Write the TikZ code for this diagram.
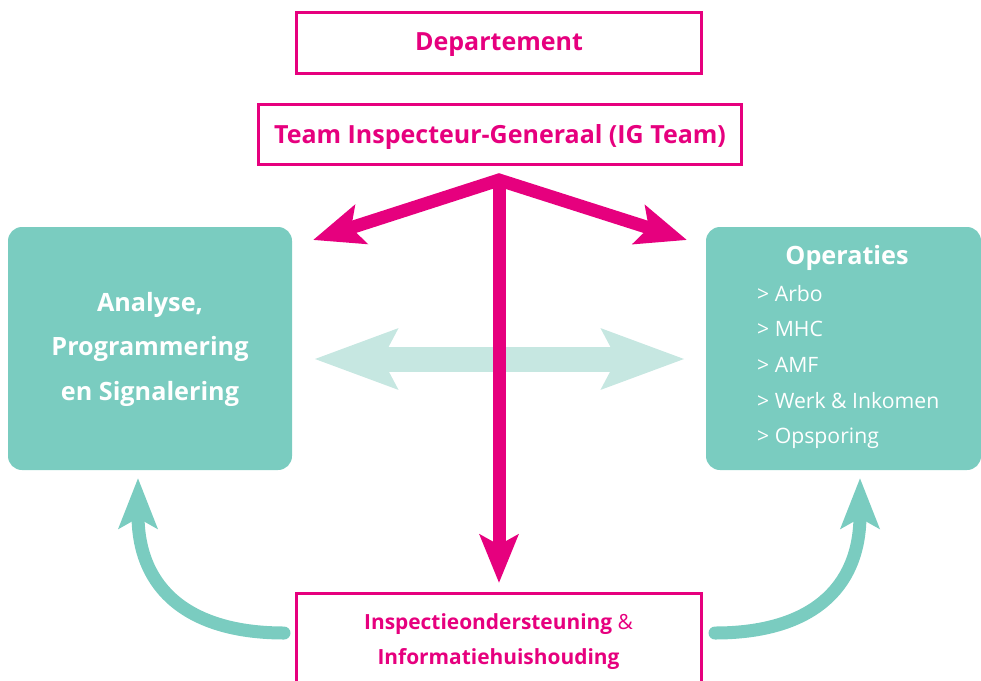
\documentclass[tikz,border=0pt]{standalone}
\usepackage{fontspec}
\setmainfont{Open Sans}
\usetikzlibrary{arrows.meta}
\definecolor{ipink}{HTML}{E6007E}
\definecolor{iteal}{HTML}{7ACCC0}
\definecolor{ilight}{HTML}{C6E7E1}
\tikzset{
  pinkbox/.style={draw=ipink, line width=3pt, inner sep=0pt},
  pinktext/.style={text=ipink, inner sep=0pt, align=center},
  tealbox/.style={fill=iteal, rounded corners=14pt, inner sep=0pt},
  pinkarrow/.style={draw=ipink, line width=13pt, line join=miter},
  lightarrow/.style={draw=ilight, line width=25pt},
  tealarrow/.style={draw=iteal, line width=13pt, line cap=round},
  bigfont/.style={font=\bfseries\fontsize{25}{29}\selectfont},
}
\begin{document}
\begin{tikzpicture}[x=1pt,y=-1pt]
\useasboundingbox (0,0) rectangle (981,680);

% boxes
\node[pinkbox, minimum width=405pt, minimum height=61pt] (dep) at (498.5,42.5) {};
\node[pinktext, bigfont] (deptext) at (499,44.5) {Departement};
\node[pinkbox, minimum width=483pt, minimum height=60pt] (ig) at (499.5,134) {};
\node[pinktext, bigfont] (igtext) at (500,137) {Team Inspecteur-Generaal (IG Team)};
\node[tealbox, minimum width=284pt, minimum height=243pt] (aps) at (150,348.5) {};
\node[text=white, font=\bfseries\fontsize{25.2}{44.5}\selectfont, align=center] (apstext) at (150,349) {Analyse,\\Programmering\\en Signalering};
\node[tealbox, minimum width=275pt, minimum height=243pt] (ops) at (843.5,348.5) {};
\node[text=white, font=\bfseries\fontsize{25.2}{29}\selectfont] (opstitle) at (847,258) {Operaties};
\node[text=white, font=\fontsize{21.2}{35.7}\selectfont, align=left, anchor=west, inner sep=0pt] (opslist) at (757,367) {> Arbo\\> MHC\\> AMF\\> Werk \& Inkomen\\> Opsporing};
\node[pinkbox, minimum width=405pt, minimum height=94pt] (ii) at (498.5,640) {};
\node[pinktext, font=\bfseries\fontsize{20.9}{35}\selectfont] (iitext) at (498.5,642) {Inspectieondersteuning {\mdseries\&}\\Informatiehuishouding};

% coordinates
\coordinate (apex) at (499,180);
\coordinate (ltip) at (313,240);
\coordinate (rtip) at (687,240);
\coordinate (btip) at (499,583);
\coordinate (lla) at (314,359);
\coordinate (lra) at (685,359);
\coordinate (cls) at (284,633);
\coordinate (clt) at (138,478);
\coordinate (crs) at (715,633);
\coordinate (crt) at (860,478);

% light double arrow
\draw[lightarrow, {Stealth[length=82pt, width=58pt, inset=14pt]}-{Stealth[length=82pt, width=58pt, inset=14pt]}] (lla) -- (lra);

% pink arrows
\draw[pinkarrow, {Stealth[length=50pt, width=40pt, inset=10pt]}-{Stealth[length=50pt, width=40pt, inset=10pt]}] (ltip) -- (apex) -- (rtip);
\draw[pinkarrow, -{Stealth[length=48pt, width=38pt, inset=10pt]}] (apex) -- (btip);

% teal curved arrows
\draw[tealarrow, -{Stealth[length=50pt, width=38pt, inset=10pt]}] (cls) .. controls (190,633) and (138,590) .. (clt);
\draw[tealarrow, -{Stealth[length=50pt, width=38pt, inset=10pt]}] (crs) .. controls (809,633) and (860,590) .. (crt);
\end{tikzpicture}
\end{document}
